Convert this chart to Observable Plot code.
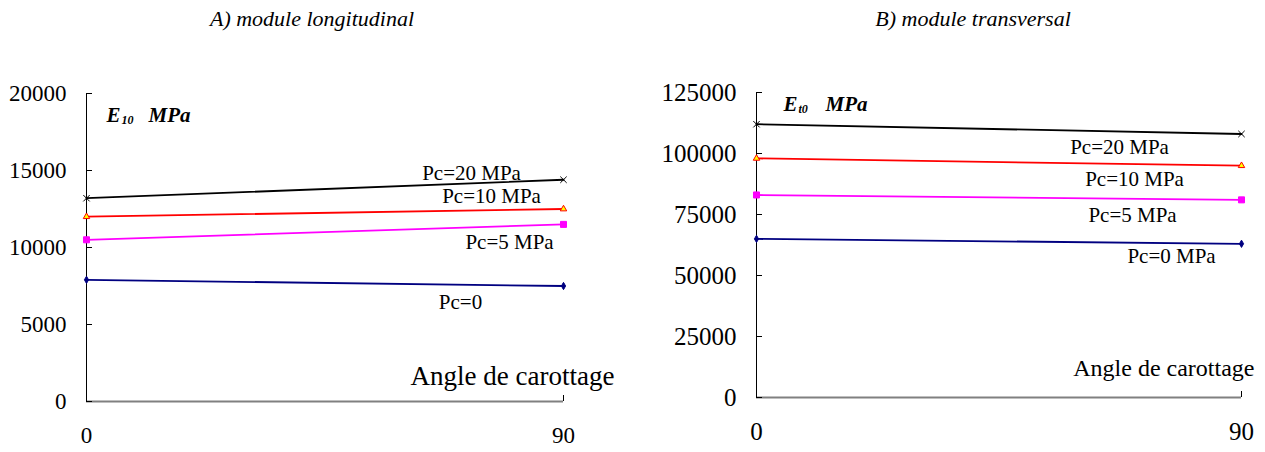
<!DOCTYPE html>
<html>
<head>
<meta charset="utf-8">
<script src="https://cdn.jsdelivr.net/npm/d3@7"></script>
<script src="https://cdn.jsdelivr.net/npm/@observablehq/plot@0.6"></script>
<style>
  html, body { margin: 0; padding: 0; background: #fff; }
  #wrap { position: relative; width: 1265px; height: 452px; font-family: "Liberation Serif", "Times New Roman", Times, "DejaVu Serif", serif; }
  .title { position: absolute; top: 6px; font-style: italic; font-size: 22px; color: #000; white-space: nowrap; transform: translateX(-50%); font-family: "Liberation Serif", "Times New Roman", Times, "DejaVu Serif", serif; }
  .chart { position: absolute; top: 50px; }
  .chart svg, .chart svg text { font-family: "Liberation Serif", "Times New Roman", Times, "DejaVu Serif", serif !important; }
</style>
</head>
<body>
<div id="wrap">
  <div class="title" style="left:312px">A) module longitudinal</div>
  <div class="title" style="left:973px">B) module transversal</div>
  <div class="chart" id="left" style="left:0px"></div>
  <div class="chart" id="right" style="left:630px"></div>
</div>
<script>
// ---- data ----
const angles = [0, 90];
const angleTicks = [0, 90];

const longSeries = ["Pc=20 MPa", "Pc=10 MPa", "Pc=5 MPa", "Pc=0"];
const longPc20 = [13200, 14400];
const longPc10 = [12000, 12500];
const longPc5 = [10500, 11500];
const longPc0 = [7900, 7500];
const longTicks = [0, 5000, 10000, 15000, 20000];

const transSeries = ["Pc=20 MPa", "Pc=10 MPa", "Pc=5 MPa", "Pc=0 MPa"];
const transPc20 = [112000, 108000];
const transPc10 = [98000, 95000];
const transPc5 = [83000, 81000];
const transPc0 = [65000, 63000];
const transTicks = [0, 25000, 50000, 75000, 100000, 125000];

// ---- styles ----
const FONT = "'Liberation Serif', 'Times New Roman', Times, 'DejaVu Serif', serif";
const seriesStyle = [
  {stroke: "#000000", symbol: "times", fill: "none", mstroke: "#000000", r: 3},
  {stroke: "#ff0000", symbol: "triangle", fill: "#ffff00", mstroke: "#ff0000", r: 2.4},
  {stroke: "#ff00ff", symbol: "square", fill: "#ff00ff", mstroke: "#ff00ff", r: 3.4},
  {stroke: "#000080", symbol: "diamond", fill: "#000080", mstroke: "#000080", r: 2.2}
];

function buildChart(cfg) {
  const marks = [];
  marks.push(Plot.ruleY([0], {stroke: "#808080", strokeWidth: 2}));
  marks.push(Plot.ruleX([0], {stroke: "#000", strokeWidth: 1}));
  marks.push(Plot.axisY({ticks: cfg.yTicks, tickSize: -6, tickPadding: 26, tickFormat: d => String(d), stroke: "#000", label: null, fontFamily: FONT, fontSize: cfg.tickFont}));
  marks.push(Plot.axisX({ticks: angleTicks, tickSize: -6, tickPadding: 31, tickFormat: d => String(d), label: null, fontFamily: FONT, fontSize: cfg.tickFont}));
  cfg.values.forEach((vals, i) => {
    const s = seriesStyle[i];
    const rows = angles.map((a, j) => ({angle: a, value: vals[j]}));
    marks.push(Plot.line(rows, {x: "angle", y: "value", stroke: s.stroke, strokeWidth: 1.8}));
    marks.push(Plot.dot(rows, {x: "angle", y: "value", symbol: () => s.symbol, r: s.r, fill: s.fill, stroke: s.mstroke, strokeWidth: 1}));
    const end = [rows[rows.length - 1]];
    marks.push(Plot.text(end, {x: "angle", y: "value", text: () => cfg.names[i], dx: cfg.labelOffsets[i][0], dy: cfg.labelOffsets[i][1], fontSize: 21, fontFamily: FONT, fill: "#000", textAnchor: "middle", lineAnchor: "middle"}));
  });
  marks.push(Plot.text([cfg.eMain], {frameAnchor: "top-left", text: d => d, dx: cfg.ePos[0], dy: cfg.ePos[1], fontSize: 21, fontFamily: FONT, fontWeight: "bold", fontStyle: "italic", textAnchor: "start", lineAnchor: "middle"}));
  marks.push(Plot.text([cfg.eSub], {frameAnchor: "top-left", text: d => d, dx: cfg.ePos[0] + 15, dy: cfg.ePos[1] + 5, fontSize: 12, fontFamily: FONT, fontWeight: "bold", fontStyle: "italic", textAnchor: "start", lineAnchor: "middle"}));
  marks.push(Plot.text([cfg.eUnit], {frameAnchor: "top-left", text: d => d, dx: cfg.ePos[0] + 42, dy: cfg.ePos[1], fontSize: 21, fontFamily: FONT, fontWeight: "bold", fontStyle: "italic", textAnchor: "start", lineAnchor: "middle"}));
  marks.push(Plot.text([cfg.xLabel], {frameAnchor: "bottom-right", text: d => d, dx: cfg.xLabelPos[0], dy: cfg.xLabelPos[1], fontSize: cfg.xLabelFont, fontFamily: FONT, textAnchor: "end", lineAnchor: "middle"}));

  return Plot.plot({
    width: cfg.width,
    height: 402,
    marginTop: cfg.mt,
    marginBottom: cfg.mb,
    marginLeft: cfg.ml,
    marginRight: cfg.mr,
    x: {domain: [0, 90]},
    y: {domain: cfg.yDomain},
    style: {fontFamily: FONT, fontSize: "22px", color: "#000", background: "transparent", overflow: "visible"},
    marks
  });
}

document.getElementById("left").appendChild(buildChart({
  width: 630, mt: 43, mb: 51, ml: 86, mr: 67,
  yDomain: [0, 20000], yTicks: longTicks, tickFont: 23,
  values: [longPc20, longPc10, longPc5, longPc0],
  names: longSeries,
  labelOffsets: [[-92, -6], [-72, -13], [-54, 18], [-103, 16]],
  eMain: "E", eSub: "10", eUnit: "MPa", ePos: [20, 22],
  xLabel: "Angle de carottage", xLabelPos: [51, -25], xLabelFont: 27
}));

document.getElementById("right").appendChild(buildChart({
  width: 635, mt: 42, mb: 55, ml: 126, mr: 24,
  yDomain: [0, 125000], yTicks: transTicks, tickFont: 25,
  values: [transPc20, transPc10, transPc5, transPc0],
  names: transSeries,
  labelOffsets: [[-122, 13], [-107, 14], [-109, 15], [-70, 12]],
  eMain: "E", eSub: "t0", eUnit: "MPa", ePos: [27, 12],
  xLabel: "Angle de carottage", xLabelPos: [13, -29], xLabelFont: 24
}));
</script>
</body>
</html>
